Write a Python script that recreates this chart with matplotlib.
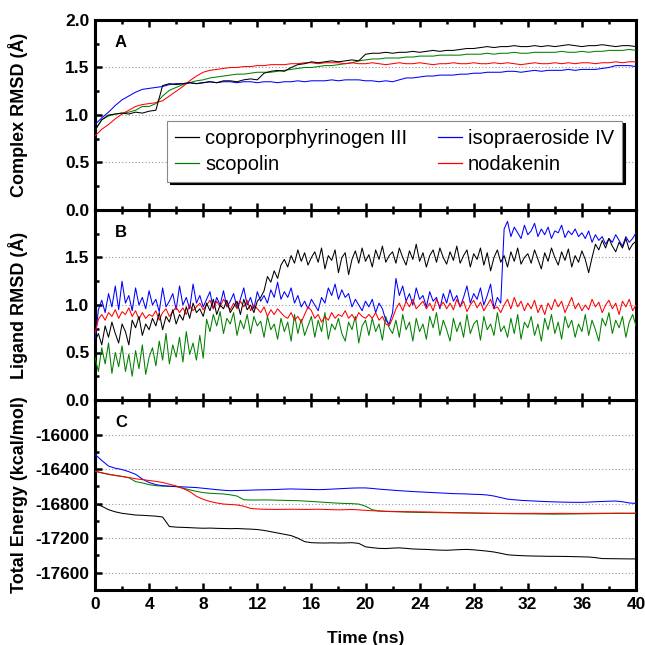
import numpy as np
import matplotlib
matplotlib.use("Agg")
from matplotlib import pyplot as plt
from matplotlib.lines import Line2D
from matplotlib.ticker import MultipleLocator

plt.rcParams["font.family"] = ["Liberation Sans", "DejaVu Sans"]

# time grids (ns)
t_a = np.arange(0, 40.01, 0.5)
t_b = np.arange(0, 40.01, 0.25)
t_c = np.arange(0, 40.01, 0.5)

names = ["coproporphyrinogen III", "scopolin", "isopraeroside IV", "nodakenin"]
colors = ["black", "#008000", "#0000ff", "#ff0000"]

# Panel A: complex RMSD (A), every 0.5 ns
rmsd_cplx_copro = [
    0.84, 0.95, 1.00, 1.01, 1.02, 1.01, 1.03, 1.02, 1.04, 1.05,
    1.31, 1.33, 1.32, 1.33, 1.34, 1.33, 1.34, 1.35, 1.34, 1.36,
    1.36, 1.35, 1.37, 1.38, 1.37, 1.44, 1.46, 1.47, 1.46, 1.50,
    1.53, 1.54, 1.56, 1.55, 1.56, 1.57, 1.56, 1.57, 1.58, 1.57,
    1.64, 1.65, 1.65, 1.66, 1.65, 1.66, 1.66, 1.67, 1.66, 1.67,
    1.68, 1.67, 1.68, 1.68, 1.69, 1.70, 1.70, 1.71, 1.72, 1.71,
    1.72, 1.72, 1.73, 1.72, 1.72, 1.73, 1.72, 1.73, 1.72, 1.73,
    1.74, 1.73, 1.72, 1.73, 1.73, 1.74, 1.73, 1.72, 1.73, 1.73,
    1.72]
rmsd_cplx_scop = [
    0.84, 0.95, 0.99, 1.01, 1.02, 1.03, 1.05, 1.09, 1.09, 1.12,
    1.20, 1.26, 1.29, 1.32, 1.34, 1.36, 1.37, 1.39, 1.40, 1.41,
    1.42, 1.43, 1.43, 1.44, 1.45, 1.45, 1.45, 1.46, 1.47, 1.48,
    1.49, 1.50, 1.50, 1.51, 1.52, 1.52, 1.53, 1.54, 1.55, 1.57,
    1.58, 1.59, 1.59, 1.60, 1.60, 1.60, 1.61, 1.61, 1.62, 1.62,
    1.62, 1.63, 1.63, 1.63, 1.63, 1.64, 1.64, 1.64, 1.65, 1.64,
    1.65, 1.65, 1.66, 1.65, 1.65, 1.66, 1.66, 1.66, 1.66, 1.67,
    1.66, 1.66, 1.67, 1.66, 1.67, 1.67, 1.68, 1.68, 1.68, 1.69,
    1.68]
rmsd_cplx_isop = [
    0.90, 0.97, 1.03, 1.10, 1.16, 1.20, 1.24, 1.27, 1.28, 1.29,
    1.30, 1.32, 1.33, 1.33, 1.34, 1.33, 1.34, 1.35, 1.34, 1.35,
    1.35, 1.34, 1.35, 1.35, 1.34, 1.35, 1.35, 1.34, 1.35, 1.35,
    1.36, 1.35, 1.36, 1.36, 1.36, 1.37, 1.36, 1.37, 1.37, 1.37,
    1.36, 1.36, 1.35, 1.36, 1.35, 1.37, 1.39, 1.39, 1.40, 1.41,
    1.41, 1.42, 1.42, 1.42, 1.43, 1.43, 1.44, 1.44, 1.45, 1.45,
    1.45, 1.46, 1.46, 1.45, 1.46, 1.47, 1.46, 1.47, 1.47, 1.47,
    1.48, 1.47, 1.48, 1.48, 1.48, 1.49, 1.50, 1.52, 1.52, 1.52,
    1.51]
rmsd_cplx_noda = [
    0.78, 0.85, 0.90, 0.96, 1.01, 1.05, 1.09, 1.11, 1.12, 1.13,
    1.15, 1.20, 1.25, 1.30, 1.36, 1.41, 1.45, 1.47, 1.48, 1.49,
    1.50, 1.50, 1.51, 1.51, 1.52, 1.52, 1.53, 1.53, 1.53, 1.54,
    1.54, 1.55, 1.55, 1.54, 1.55, 1.55, 1.55, 1.54, 1.55, 1.54,
    1.54, 1.55, 1.54, 1.53, 1.54, 1.55, 1.54, 1.54, 1.55, 1.54,
    1.53, 1.54, 1.54, 1.55, 1.54, 1.54, 1.55, 1.54, 1.54, 1.55,
    1.54, 1.55, 1.54, 1.53, 1.54, 1.55, 1.54, 1.54, 1.55, 1.54,
    1.55, 1.54, 1.55, 1.55, 1.54, 1.55, 1.55, 1.56, 1.55, 1.56,
    1.56]

# Panel B: ligand RMSD (A), every 0.25 ns
rmsd_lig_copro = [
    0.62, 0.70, 0.58, 0.78, 0.66, 0.82, 0.70, 0.60, 0.80,
    0.72, 0.58, 0.84, 0.76, 0.88, 0.68, 0.80, 0.74,
    0.86, 0.78, 0.92, 0.74, 0.88, 0.82, 0.95, 0.80,
    0.90, 0.84, 0.98, 0.86, 1.02, 0.92, 0.96, 0.88,
    1.02, 0.94, 1.06, 0.90, 1.00, 0.96, 1.05, 0.92,
    0.98, 1.04, 0.90, 1.06, 0.95, 1.00, 0.92, 1.04,
    1.08, 1.15, 1.30, 1.24, 1.36, 1.28, 1.42, 1.48,
    1.40, 1.52, 1.44, 1.58, 1.46, 1.55, 1.42, 1.50,
    1.56, 1.45, 1.60, 1.38, 1.52, 1.47, 1.58, 1.34,
    1.50, 1.55, 1.32, 1.48, 1.57, 1.44, 1.60, 1.46,
    1.53, 1.40, 1.58, 1.48, 1.62, 1.45, 1.52, 1.56,
    1.44, 1.60, 1.50, 1.42, 1.57, 1.48, 1.64, 1.46,
    1.55, 1.40, 1.52, 1.58, 1.45, 1.60, 1.50, 1.43,
    1.56, 1.47, 1.62, 1.44, 1.52, 1.58, 1.40, 1.54,
    1.48, 1.60, 1.42, 1.55, 1.36, 1.50, 1.58, 1.45,
    1.52, 1.40, 1.56, 1.46, 1.60, 1.43, 1.50, 1.54,
    1.44, 1.58, 1.48, 1.38, 1.55, 1.46, 1.60, 1.50,
    1.42, 1.56, 1.47, 1.59, 1.40, 1.52, 1.45, 1.57,
    1.48, 1.34, 1.50, 1.64, 1.58, 1.68, 1.60, 1.70,
    1.62, 1.56, 1.66, 1.60, 1.70, 1.58, 1.64, 1.67]
rmsd_lig_scop = [
    0.45, 0.30, 0.55, 0.38, 0.60, 0.28, 0.50, 0.35, 0.57,
    0.30, 0.48, 0.25, 0.52, 0.33, 0.58, 0.27, 0.45,
    0.55, 0.36, 0.62, 0.42, 0.70, 0.38, 0.58, 0.45,
    0.66, 0.40, 0.72, 0.48, 0.60, 0.42, 0.68, 0.44,
    0.85, 0.72, 0.90, 0.78, 0.93, 0.70, 0.86, 0.80,
    0.92, 0.68, 0.84, 0.75, 0.90, 0.70, 0.88, 0.78,
    0.83, 0.66, 0.88, 0.74, 0.80, 0.64, 0.86, 0.72,
    0.82, 0.62, 0.90, 0.70, 0.85, 0.68, 0.78, 0.88,
    0.66, 0.84, 0.72, 0.92, 0.64, 0.80, 0.74, 0.86,
    0.70, 0.62, 0.82, 0.74, 0.88, 0.60, 0.78, 0.84,
    0.68, 0.86, 0.72, 0.80, 0.63, 0.88, 0.76, 0.70,
    0.84, 0.66, 0.90, 0.74, 0.82, 0.62, 0.86, 0.72,
    0.80, 0.64, 0.88, 0.76, 0.92, 0.68, 0.84, 0.74,
    0.62, 0.86, 0.72, 0.82, 0.66, 0.90, 0.70, 0.80,
    0.84, 0.63, 0.88, 0.74, 0.80, 0.68, 0.92, 0.72,
    0.78, 0.66, 0.86, 0.70, 0.90, 0.64, 0.82, 0.76,
    0.88, 0.68, 0.80, 0.62, 0.86, 0.74, 0.90, 0.70,
    0.82, 0.64, 0.88, 0.76, 0.84, 0.66, 0.80, 0.72,
    0.90, 0.68, 0.84, 0.74, 0.62, 0.86, 0.78, 0.92,
    0.70, 0.84, 0.76, 0.88, 0.66, 0.82, 0.90, 0.78]
rmsd_lig_isop = [
    0.62, 0.95, 1.05, 0.92, 1.12, 0.98, 1.20, 0.95, 1.25,
    1.02, 1.10, 0.94, 1.18, 1.00, 1.08, 0.96, 1.15,
    1.00, 1.06, 0.93, 1.18, 0.98, 1.04, 1.12, 0.95,
    1.20, 1.00, 1.08, 0.96, 1.22, 1.02, 1.10, 0.98,
    1.06, 1.14, 0.96, 1.08, 1.00, 1.15, 0.98, 1.04,
    1.12, 0.97, 1.06, 1.18, 1.00, 1.08, 0.96, 1.14,
    1.04, 1.10, 1.02, 1.16, 1.08, 1.24, 1.06, 1.14,
    1.08, 1.18, 1.02, 1.10, 0.98, 1.04, 0.96, 1.06,
    1.00, 0.94, 1.08, 1.02, 1.18, 1.10, 1.22, 1.06,
    1.16, 1.08, 1.12, 0.98, 1.06, 1.00, 0.94, 1.04,
    0.98, 1.06, 0.92, 1.02, 0.96, 0.84, 0.80, 0.92,
    1.28, 1.10, 1.20, 1.04, 1.12, 1.00, 1.18, 1.06,
    1.10, 0.98, 1.14, 1.04, 1.08, 0.96, 1.12, 1.02,
    1.16, 1.04, 1.10, 0.98, 1.08, 1.20, 1.02, 1.12,
    1.06, 1.18, 1.00, 1.10, 1.22, 0.96, 1.08, 1.02,
    1.80, 1.88, 1.72, 1.82, 1.76, 1.70, 1.84, 1.74,
    1.78, 1.86, 1.72, 1.80, 1.74, 1.82, 1.70, 1.78,
    1.76, 1.84, 1.71, 1.78, 1.74, 1.80, 1.72, 1.76,
    1.70, 1.78, 1.66, 1.74, 1.68, 1.72, 1.64, 1.70,
    1.66, 1.74, 1.68, 1.62, 1.72, 1.66, 1.70, 1.76]
rmsd_lig_noda = [
    0.70, 0.85, 0.90, 0.84, 0.92, 0.88, 0.95, 0.86, 0.93,
    0.90, 0.97, 0.88, 0.94, 0.85, 0.92, 0.86, 0.90,
    0.88, 0.94, 0.84, 0.92, 0.96, 0.88, 0.93, 0.98,
    0.92, 0.97, 0.90, 1.00, 0.94, 0.98, 1.02, 0.95,
    1.00, 1.05, 0.96, 1.04, 0.98, 1.06, 1.00, 0.95,
    1.02, 0.96, 1.04, 0.98, 1.05, 0.94, 1.00, 0.96,
    0.92, 0.98, 0.88, 0.95, 0.90, 0.96, 0.92, 0.88,
    0.86, 0.92, 0.84, 0.88, 0.82, 0.90, 0.98, 0.94,
    0.86, 0.90, 0.82, 0.88, 0.84, 0.92, 0.86, 0.90,
    0.88, 0.94, 0.86, 0.90, 0.84, 0.92, 0.88, 0.86,
    0.90, 0.86, 0.92, 0.84, 0.88, 0.80, 0.78, 0.86,
    0.96, 1.02, 0.94, 1.04, 0.98, 1.06, 0.96, 1.00,
    1.04, 0.96, 1.02, 0.94, 1.06, 0.98, 1.03, 0.96,
    1.02, 0.95, 1.06, 0.98, 1.04, 0.93, 1.00, 1.05,
    0.97, 1.03, 0.94, 1.00, 1.06, 0.96, 0.98, 0.92,
    1.00, 1.06, 0.96, 1.08, 0.98, 1.04, 0.94, 1.02,
    0.96, 1.05, 0.92, 1.00, 0.90, 1.02, 0.95, 1.06,
    0.98, 1.04, 0.92, 1.00, 1.08, 0.96, 1.02, 0.94,
    1.00, 0.95, 1.06, 0.98, 1.03, 0.92, 1.00, 1.05,
    0.96, 1.02, 0.90, 1.04, 0.98, 1.06, 0.94, 1.00]

# Panel C: total energy (kcal/mol), every 0.5 ns
energy_copro = [
    -16800, -16830, -16870, -16895, -16912, -16922, -16932, -16935, -16940, -16945,
    -16955, -17065, -17072, -17075, -17078, -17082, -17085, -17083, -17086, -17088,
    -17090, -17088, -17092, -17095, -17100, -17110, -17125, -17140, -17155, -17170,
    -17200, -17240, -17252, -17255, -17256, -17254, -17256, -17255, -17252, -17260,
    -17300, -17310, -17318, -17320, -17315, -17312, -17318, -17325, -17328, -17330,
    -17335, -17338, -17340, -17336, -17332, -17330, -17335, -17342, -17350, -17360,
    -17375, -17392, -17398, -17402, -17405, -17407, -17408, -17410, -17410, -17411,
    -17412, -17414, -17416, -17418, -17425, -17436, -17437, -17438, -17439, -17440,
    -17440]
energy_scop = [
    -16425, -16445, -16462, -16475, -16485, -16500, -16545, -16560, -16580, -16592,
    -16597, -16600, -16603, -16620, -16640, -16658, -16672, -16680, -16684, -16688,
    -16698, -16712, -16755, -16758, -16758, -16757, -16758, -16760, -16762, -16764,
    -16766, -16770, -16775, -16780, -16785, -16790, -16795, -16798, -16800, -16805,
    -16830, -16870, -16885, -16890, -16893, -16895, -16898, -16900, -16902, -16903,
    -16904, -16905, -16906, -16907, -16908, -16909, -16910, -16912, -16913, -16914,
    -16915, -16916, -16917, -16918, -16918, -16919, -16920, -16921, -16922, -16921,
    -16920, -16919, -16918, -16917, -16916, -16915, -16914, -16914, -16913, -16913,
    -16913]
energy_isop = [
    -16230, -16300, -16365, -16390, -16405, -16430, -16460, -16515, -16555, -16580,
    -16592, -16598, -16602, -16606, -16610, -16614, -16622, -16630, -16638, -16645,
    -16650, -16648, -16646, -16644, -16641, -16640, -16638, -16636, -16632, -16630,
    -16632, -16634, -16636, -16638, -16636, -16632, -16628, -16624, -16620, -16618,
    -16618, -16624, -16632, -16638, -16644, -16650, -16655, -16660, -16664, -16668,
    -16672, -16676, -16680, -16684, -16686, -16688, -16692, -16694, -16700, -16712,
    -16730, -16748, -16755, -16762, -16766, -16770, -16774, -16777, -16780, -16782,
    -16784, -16785, -16785, -16782, -16778, -16775, -16772, -16770, -16778, -16792,
    -16798]
energy_noda = [
    -16425, -16442, -16458, -16472, -16485, -16498, -16512, -16522, -16532, -16542,
    -16555, -16575, -16595, -16625, -16660, -16715, -16750, -16775, -16792, -16805,
    -16810, -16815, -16830, -16855, -16862, -16865, -16866, -16867, -16866, -16865,
    -16866, -16867, -16866, -16865, -16867, -16870, -16872, -16870, -16868, -16872,
    -16878, -16882, -16886, -16888, -16890, -16892, -16893, -16894, -16895, -16896,
    -16898, -16900, -16902, -16904, -16905, -16906, -16908, -16909, -16910, -16911,
    -16912, -16912, -16913, -16913, -16913, -16912, -16913, -16914, -16913, -16912,
    -16913, -16914, -16913, -16912, -16912, -16911, -16911, -16910, -16910, -16911,
    -16910]

fig = plt.figure(figsize=(6.45, 6.45), dpi=100)
left, width = 95 / 645, 541 / 645
h = 190 / 645
bottom = 55 / 645
ax_c = fig.add_axes([left, bottom, width, h])
ax_b = fig.add_axes([left, bottom + h, width, h], sharex=ax_c)
ax_a = fig.add_axes([left, bottom + 2 * h, width, h], sharex=ax_c)

panels = [
    (ax_a, t_a, [rmsd_cplx_copro, rmsd_cplx_scop, rmsd_cplx_isop, rmsd_cplx_noda]),
    (ax_b, t_b, [rmsd_lig_copro, rmsd_lig_scop, rmsd_lig_isop, rmsd_lig_noda]),
    (ax_c, t_c, [energy_copro, energy_scop, energy_isop, energy_noda]),
]

for ax, t, series in panels:
    # draw order: green, blue, red, black on top
    for i in [1, 2, 3, 0]:
        ax.plot(t, series[i], color=colors[i], lw=0.75, zorder=3)
    for s in ax.spines.values():
        s.set_linewidth(2.2)
    ax.tick_params(axis="x", which="both", direction="in", top=True, bottom=True,
                   labelbottom=False, width=1.8)
    ax.tick_params(axis="y", which="both", direction="in", left=True, right=False,
                   width=1.8, labelsize=12.5, pad=4)
    ax.tick_params(which="major", length=5)
    ax.tick_params(which="minor", length=3)
    ax.xaxis.set_major_locator(MultipleLocator(4))
    ax.xaxis.set_minor_locator(MultipleLocator(2))
    ax.grid(axis="y", which="major", linestyle=(0, (1, 2)), color="#999999", lw=0.8, zorder=1)

ax_c.set_xlim(0, 40)

ax_a.set_ylim(0, 2.0)
ax_a.set_yticks([0.0, 0.5, 1.0, 1.5, 2.0])
ax_a.yaxis.set_minor_locator(MultipleLocator(0.25))
ax_b.set_ylim(0, 2.0)
ax_b.set_yticks([0.0, 0.5, 1.0, 1.5])
ax_b.yaxis.set_minor_locator(MultipleLocator(0.25))
ax_c.set_ylim(-17800, -15600)
ax_c.set_yticks([-17600, -17200, -16800, -16400, -16000])
ax_c.yaxis.set_minor_locator(MultipleLocator(200))

for ax in (ax_a, ax_b):
    ax.set_yticklabels([f"{v:.1f}" for v in ax.get_yticks()], fontweight="bold")
ax_c.set_yticklabels([str(int(v)) for v in ax_c.get_yticks()], fontweight="bold")

ax_c.tick_params(axis="x", labelbottom=True, labelsize=12.5, pad=5)
for lab in ax_c.get_xticklabels():
    lab.set_fontweight("bold")
ax_c.set_xlabel("Time (ns)", fontsize=12.5, fontweight="bold", labelpad=14)

ylabels = ["Complex RMSD (Å)", "Ligand RMSD (Å)", "Total Energy (kcal/mol)"]
for ax, lab, letter in zip((ax_a, ax_b, ax_c), ylabels, "ABC"):
    ax.set_ylabel(lab, fontsize=13, fontweight="bold")
    ax.yaxis.set_label_coords(-0.123, 0.5)
    ax.text(0.037, 0.88, letter, transform=ax.transAxes, fontsize=12,
            fontweight="bold", ha="left", va="center")

proxies = [Line2D([], [], color=c, lw=0.9) for c in colors]
leg = ax_a.legend(proxies, names, ncol=2,
                  loc="lower left", bbox_to_anchor=(0.133, 0.149), fontsize=14.5,
                  frameon=True, fancybox=False, edgecolor="#888888",
                  shadow={"color": "black", "alpha": 1.0}, handlelength=1.2,
                  handletextpad=0.3, columnspacing=1.5, labelspacing=0.35,
                  borderpad=0.4, borderaxespad=0)
leg.get_frame().set_linewidth(0.8)
leg.set_zorder(5)

fig.savefig("out.png", dpi=100)
